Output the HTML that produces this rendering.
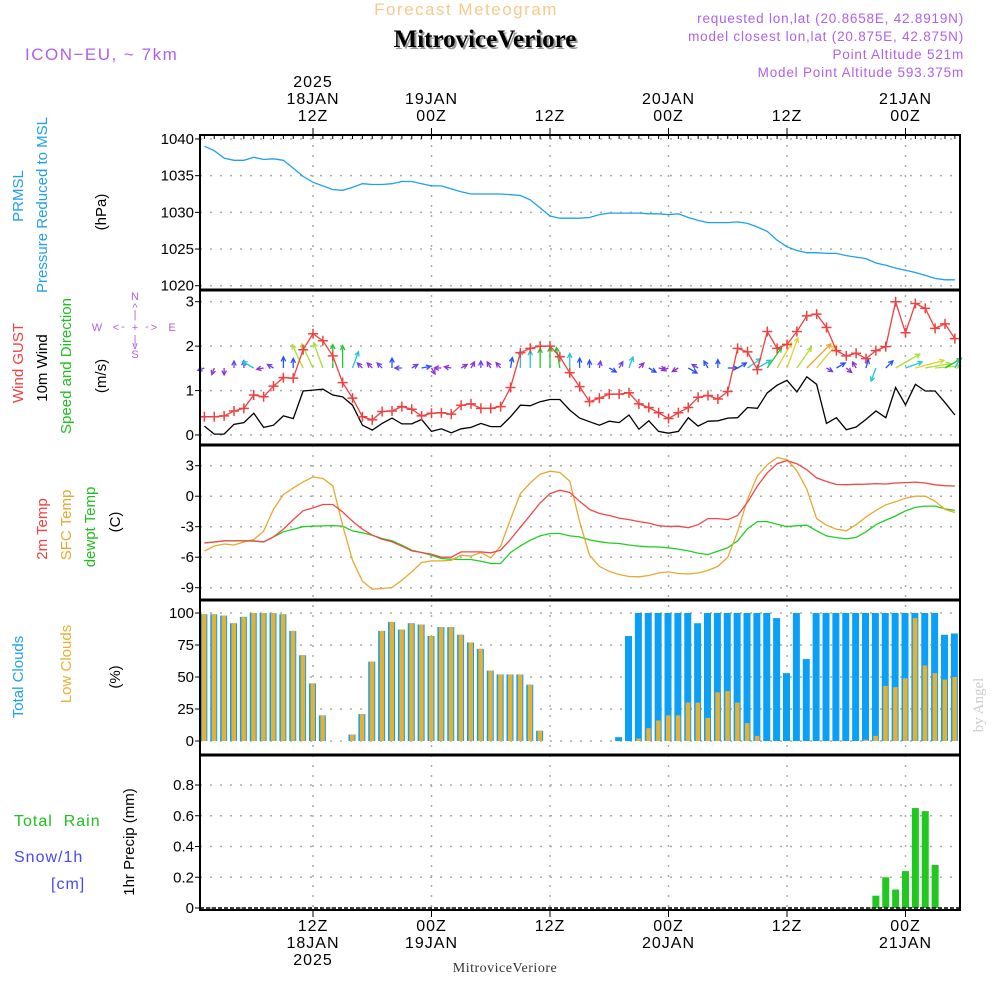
<!DOCTYPE html>
<html><head><meta charset="utf-8"><style>
html,body{margin:0;padding:0;background:#fff;}
svg{display:block;font-family:"Liberation Sans",sans-serif;}
</style></head><body>
<svg id="chart" width="1000" height="1000" viewBox="0 0 1000 1000" xmlns="http://www.w3.org/2000/svg">
<g id="static">
<text x="466" y="15" text-anchor="middle" font-size="17" fill="#f7c98a" letter-spacing="1.5">Forecast Meteogram</text>
<text x="487" y="49" text-anchor="middle" font-size="25" font-weight="bold" font-family="Liberation Serif, serif" fill="#999">MitroviceVeriore</text>
<text x="485" y="47" text-anchor="middle" font-size="25" font-weight="bold" font-family="Liberation Serif, serif" fill="#000">MitroviceVeriore</text>
<text x="964" y="23" text-anchor="end" font-size="13.5" fill="#b060e8" letter-spacing="0.8">requested lon,lat (20.8658E, 42.8919N)</text>
<text x="964" y="41" text-anchor="end" font-size="13.5" fill="#b060e8" letter-spacing="0.8">model closest lon,lat (20.875E, 42.875N)</text>
<text x="964" y="59" text-anchor="end" font-size="13.5" fill="#b060e8" letter-spacing="0.8">Point Altitude 521m</text>
<text x="964" y="77" text-anchor="end" font-size="13.5" fill="#b060e8" letter-spacing="0.8">Model Point Altitude 593.375m</text>
<text x="25" y="60" font-size="17" fill="#b060e8" letter-spacing="1.5">ICON−EU, ~ 7km</text>
<text x="505" y="972" text-anchor="middle" font-size="14" font-family="Liberation Serif, serif" fill="#333" letter-spacing="0.5">MitroviceVeriore</text>
<text transform="translate(983,705) rotate(-90)" text-anchor="middle" font-size="15" font-family="Liberation Serif, serif" fill="#ccc">by Angel</text>
</g>
</svg>
<script>
const pressure = [1039.0,1038.4,1037.4,1037.1,1037.1,1037.5,1037.2,1037.3,1037.1,1036.0,1034.9,1034.1,1033.6,1033.1,1033.0,1033.4,1033.9,1033.8,1033.8,1033.9,1034.2,1034.2,1033.9,1033.6,1033.6,1033.2,1032.8,1032.5,1032.5,1032.5,1032.5,1032.4,1032.3,1031.7,1030.6,1029.5,1029.2,1029.2,1029.2,1029.3,1029.7,1029.9,1029.9,1029.9,1029.9,1029.8,1029.8,1029.7,1029.8,1029.3,1028.9,1028.6,1028.6,1028.6,1028.7,1028.5,1028.0,1027.4,1026.2,1025.3,1024.8,1024.5,1024.5,1024.4,1024.4,1024.1,1023.9,1023.7,1023.1,1022.8,1022.4,1022.1,1021.8,1021.4,1021.0,1020.8,1020.8];
const gust = [0.41,0.41,0.43,0.54,0.6,0.9,0.86,1.1,1.29,1.28,1.92,2.28,2.12,1.78,1.18,0.83,0.41,0.34,0.53,0.54,0.64,0.58,0.43,0.49,0.5,0.47,0.67,0.7,0.6,0.6,0.64,1.07,1.85,1.95,2.0,2.0,1.76,1.4,1.09,0.75,0.83,0.92,0.92,0.95,0.7,0.62,0.5,0.37,0.5,0.62,0.85,0.89,0.81,0.98,1.95,1.87,1.47,2.33,1.95,2.04,2.33,2.68,2.72,2.42,1.9,1.78,1.84,1.72,1.9,1.99,3.0,2.3,2.96,2.85,2.4,2.5,2.17];
const windSpeed = [0.2,0.02,0.02,0.24,0.28,0.49,0.17,0.22,0.43,0.37,0.99,1.01,1.03,0.9,0.86,0.67,0.22,0.11,0.26,0.38,0.25,0.25,0.35,0.08,0.14,0.05,0.14,0.17,0.26,0.19,0.19,0.41,0.67,0.66,0.75,0.8,0.8,0.56,0.38,0.3,0.22,0.31,0.28,0.45,0.13,0.32,0.08,0.04,0.08,0.39,0.2,0.31,0.32,0.38,0.39,0.62,0.6,0.95,1.12,1.23,0.97,1.31,1.14,0.26,0.39,0.12,0.18,0.35,0.54,0.39,1.07,0.68,1.14,0.99,0.99,0.73,0.45];
const windDir = [250,200,180,0,0,300,260,300,0,0,335,335,340,0,0,20,315,315,315,0,270,60,80,150,270,280,60,30,0,330,320,10,0,0,0,0,350,0,0,0,10,120,30,20,45,120,100,250,240,120,300,330,0,90,60,55,60,35,30,20,35,45,40,120,60,130,330,15,200,45,60,70,75,80,85,60,30];
const temp2m = [-4.6,-4.5,-4.4,-4.4,-4.4,-4.4,-4.5,-4.0,-3.25,-2.3,-1.44,-1.15,-0.82,-0.82,-1.54,-2.46,-3.25,-3.84,-4.23,-4.49,-4.92,-5.38,-5.54,-5.7,-6.0,-6.0,-5.48,-5.48,-5.48,-5.57,-5.31,-4.26,-3.05,-1.87,-0.66,0.26,0.59,0.36,-0.5,-1.3,-1.7,-1.9,-2.15,-2.3,-2.5,-2.65,-2.9,-2.98,-2.95,-3.1,-2.8,-2.2,-2.2,-2.3,-1.9,-0.6,1.0,2.3,3.2,3.5,3.2,2.6,1.8,1.45,1.15,1.13,1.17,1.18,1.24,1.2,1.3,1.34,1.39,1.3,1.12,1.03,1.0];
const tempSfc = [-5.4,-4.9,-4.7,-4.8,-4.5,-4.26,-3.44,-1.28,0.16,0.82,1.41,1.9,1.74,1.02,-2.85,-6.3,-8.36,-9.15,-9.08,-8.98,-8.26,-7.44,-6.52,-6.36,-6.36,-6.3,-5.8,-5.9,-5.54,-6.07,-4.92,-2.26,0.26,1.31,2.16,2.46,2.33,1.48,-2.5,-5.8,-6.9,-7.4,-7.7,-7.9,-7.93,-7.8,-7.55,-7.45,-7.6,-7.65,-7.55,-7.3,-6.9,-6.0,-3.5,-0.3,2.0,3.1,3.8,3.6,2.5,0.7,-2.2,-2.85,-3.25,-3.4,-2.8,-2.05,-1.4,-0.85,-0.55,-0.2,0.0,0.0,-0.5,-1.3,-1.6];
const dewpt = [-4.59,-4.5,-4.39,-4.39,-4.39,-4.43,-4.49,-4.0,-3.5,-3.25,-3.0,-2.95,-2.92,-2.89,-2.95,-3.41,-3.6,-3.84,-4.16,-4.39,-4.82,-5.31,-5.54,-5.8,-6.13,-6.2,-6.23,-6.23,-6.39,-6.62,-6.62,-5.54,-4.89,-4.33,-3.9,-3.67,-3.67,-3.9,-4.0,-4.3,-4.48,-4.6,-4.65,-4.8,-4.92,-4.98,-5.0,-5.08,-5.2,-5.38,-5.6,-5.74,-5.4,-5.08,-4.4,-3.2,-2.5,-2.5,-2.75,-3.0,-2.9,-2.85,-3.4,-3.9,-4.07,-4.2,-4.05,-3.5,-2.8,-2.35,-1.95,-1.45,-1.1,-0.97,-0.97,-1.25,-1.4];
const totalClouds = [99,99,98,92,97,100,100,100,99,86,67,45,20,0,0,5,21,62,86,93,87,92,91,82,89,89,83,77,72,55,52,52,52,44,8,0,0,0,0,0,0,0,3,82,100,100,100,100,100,100,92,100,100,100,100,100,100,100,96,53,100,64,100,100,100,100,100,100,100,100,100,100,100,100,100,83,84];
const lowClouds = [99,99,98,92,97,100,100,100,99,86,67,45,20,0,0,5,21,62,86,93,87,92,91,82,89,89,83,77,72,55,52,52,52,44,8,0,0,0,0,0,0,0,0,0,2,10,16,20,20,30,30,18,38,39,30,14,4,0,0,0,0,0,0,0,0,0,0,1,4,43,42,49,96,59,53,48,50];
const precip = [0,0,0,0,0,0,0,0,0,0,0,0,0,0,0,0,0,0,0,0,0,0,0,0,0,0,0,0,0,0,0,0,0,0,0,0,0,0,0,0,0,0,0,0,0,0,0,0,0,0,0,0,0,0,0,0,0,0,0,0,0,0,0,0,0,0,0,0,0.08,0.2,0.12,0.24,0.65,0.63,0.28,0,0];
const pressureTicks = [1020,1025,1030,1035,1040];
const windTicks = [0,1,2,3];
const tempTicks = [-9,-6,-3,0,3];
const cloudTicks = [0,25,50,75,100];
const precipTicks = [0,0.2,0.4,0.6,0.8];
const timeTicks = [12,24,36,48,60,72];
const topLabels = [["2025","18JAN","12Z"],["19JAN","00Z"],["12Z"],["20JAN","00Z"],["12Z"],["21JAN","00Z"]];
const bottomLabels = [["12Z","18JAN","2025"],["00Z","19JAN"],["12Z"],["00Z","20JAN"],["12Z"],["00Z","21JAN"]];

const X0=200, X1=960;
function xs(t){ return 313 + (t-12)*9.875; }
function lin(d0,d1,r0,r1){ return v => r0 + (v-d0)/(d1-d0)*(r1-r0); }
const yP = lin(1020,1040,285.7,139);
const yW = lin(0,3,435,301.7);
const yT = lin(-9,3,587.7,465.7);
const yC = lin(0,100,741,613);
const yR = lin(0,0.8,908,785);
const panels=[[135,290],[290,445],[445,600],[600,755],[755,910]];

const svg=document.getElementById('chart');
const NS='http://www.w3.org/2000/svg';
function mk(tag,attrs,parent){ const e=document.createElementNS(NS,tag); for(const k in attrs) e.setAttribute(k,attrs[k]); (parent||svg).appendChild(e); return e; }
function txt(s,attrs,parent){ const e=mk('text',attrs,parent); e.textContent=s; return e; }
const tOf = i => i+1;

const grid=mk('g',{});


function hgrid(vals,scale,fmt,name){
  vals.forEach(v=>{
    const y=scale(v);
    const l=mk('line',{x1:X0,x2:X1,y1:y,y2:y,stroke:'#aaa','stroke-width':1.5,'stroke-dasharray':'2,8'},grid);
    
    
    mk('line',{x1:X0-5,x2:X0,y1:y,y2:y,stroke:'#000'},grid);
    const t=txt(fmt(v),{x:X0-6,y:y+5,'text-anchor':'end','font-size':15,fill:'#000'},grid);
    
    
  });
}
hgrid(pressureTicks,yP,v=>String(v),'pressure');
hgrid(windTicks,yW,v=>String(v),'wind');
hgrid(tempTicks,yT,v=>String(v),'temp');
hgrid(cloudTicks,yC,v=>String(v),'cloud');
hgrid(precipTicks,yR,v=>v===0?'0':v.toFixed(1),'precip');
timeTicks.forEach(t=>{
  const x=xs(t);
  const l=mk('line',{x1:x,x2:x,y1:135,y2:910,stroke:'#aaa','stroke-width':1.5,'stroke-dasharray':'2,8'},grid);
  
  
  mk('line',{x1:x,x2:x,y1:128,y2:135,stroke:'#000'},grid);
  mk('line',{x1:x,x2:x,y1:910,y2:917,stroke:'#000'},grid);
});
for(let t=1;t<78;t++){ const x=xs(t); mk('line',{x1:x,x2:x,y1:135,y2:139,stroke:'#000','stroke-width':1},grid); }
timeTicks.forEach((t,k)=>{
  const x=xs(t);
  const tl=topLabels[k];
  tl.forEach((s,j)=>{
    const e=txt(s,{x:x,y:121-(tl.length-1-j)*17,'text-anchor':'middle','font-size':16,fill:'#000','letter-spacing':1},grid);
    
    
  });
  bottomLabels[k].forEach((s,j)=>{
    const e=txt(s,{x:x,y:931+j*17,'text-anchor':'middle','font-size':16,fill:'#000','letter-spacing':1},grid);
    
    
  });
});

function poly(arr,scale,color,name,w){
  const pts=arr.map((v,i)=>xs(tOf(i)).toFixed(1)+','+scale(v).toFixed(1)).join(' ');
  const p=mk('polyline',{points:pts,fill:'none',stroke:color,'stroke-width':w||1.3});
  
  
  return p;
}
poly(pressure,yP,'#1ea0f0','pressure-line');
function wcol(s){ if(s<0.2)return '#9030d8'; if(s<0.3)return '#7040f0'; if(s<0.45)return '#2850ff'; if(s<0.7)return '#20c8d8'; if(s<0.97)return '#20c830'; if(s<1.1)return '#a8e030'; if(s<1.25)return '#e0d030'; return '#f0a030'; }
const arrows=mk('g',{});


windDir.forEach((d,i)=>{
  const s=windSpeed[i]; const len=Math.max(7,s*26);
  const x=xs(tOf(i)), y=368, r=d*Math.PI/180;
  const x2=x+len*Math.sin(r), y2=y-len*Math.cos(r);
  const c=wcol(s);
  const g=mk('g',{stroke:c,'stroke-width':1.3,fill:'none'},arrows);
  
  
  mk('line',{x1:x,y1:y,x2:x2,y2:y2},g);
  const a1=r+Math.PI*0.85, a2=r-Math.PI*0.85, h=5;
  mk('polyline',{points:`${x2+h*Math.sin(a1)},${y2-h*Math.cos(a1)} ${x2},${y2} ${x2+h*Math.sin(a2)},${y2-h*Math.cos(a2)}`},g);
});
poly(windSpeed,yW,'#000','wind-speed-line');
poly(gust,yW,'#f04040','wind-gust-line');
gust.forEach((v,i)=>{
  const x=xs(tOf(i)), y=yW(v);
  const m=mk('path',{d:`M${x-5},${y}H${x+5}M${x},${y-5}V${y+5}`,stroke:'#f04040','stroke-width':1.5});
  
  
});
poly(dewpt,yT,'#20d020','dewpoint-line');
poly(tempSfc,yT,'#e8a830','sfc-temp-line');
poly(temp2m,yT,'#f04848','temp-2m-line');
totalClouds.forEach((v,i)=>{
  const x=xs(tOf(i));
  const b=mk('rect',{x:x-4,y:yC(v),width:7,height:yC(0)-yC(v),fill:'#0aa0f8'});
  
  
  const lv=lowClouds[i];
  const o=mk('rect',{x:x-2.5,y:yC(lv),width:4.5,height:yC(0)-yC(lv),fill:'#e8b030'});
  
  
});
precip.forEach((v,i)=>{
  if(v<=0) return;
  const x=xs(tOf(i));
  const b=mk('rect',{x:x-3.5,y:yR(v),width:7,height:yR(0)-yR(v),fill:'#20c820'});
  
  
});
const sl=mk('line',{x1:X0,x2:X1,y1:908,y2:908,stroke:'#000','stroke-width':1.5,'stroke-dasharray':'4,2'});



panels.forEach((p,k)=>{
  const r=mk('rect',{x:X0,y:p[0],width:X1-X0,height:p[1]-p[0],fill:'none',stroke:'#000','stroke-width':2});
  
  
});
[290,445,600,755].forEach(y=>mk('line',{x1:X0,x2:X1,y1:y,y2:y,stroke:'#000','stroke-width':3}));

function vlab(s,x,y,color,name,size){
  const e=txt(s,{transform:`translate(${x},${y}) rotate(-90)`,'text-anchor':'middle','font-size':size||15,fill:color});
  
  
  return e;
}
vlab('PRMSL',23,196,'#1ea0f0','pressure-label-short');
vlab('Pressure Reduced to MSL',47,205,'#1ea0f0','pressure-label');
vlab('(hPa)',106,212,'#000','pressure-unit');
vlab('Wind GUST',23,363,'#f04040','gust-label');
vlab('10m Wind',47,368,'#000','wind-label');
vlab('Speed and Direction',71,366,'#20c020','wind-dir-label');
vlab('(m/s)',106,376,'#000','wind-unit');
vlab('2m Temp',47,529,'#f04040','temp-2m-label');
vlab('SFC Temp',71,525,'#e8a830','sfc-temp-label');
vlab('dewpt Temp',95,527,'#20c020','dewpt-label');
vlab('(C)',120,522,'#000','temp-unit');
vlab('Total Clouds',23,677,'#1ea0f0','total-cloud-label');
vlab('Low Clouds',71,664,'#e8b030','low-cloud-label');
vlab('(%)',120,677,'#000','cloud-unit');
vlab('1hr Precip (mm)',134,842,'#000','precip-unit');
[['Total  Rain',14,826,'#20c020','rain-label'],['Snow/1h',14,862,'#4848f0','snow-label'],['[cm]',51,889,'#4848f0','snow-unit']].forEach(a=>{
  const e=txt(a[0],{x:a[1],y:a[2],'font-size':16,fill:a[3],'letter-spacing':1});
  e.style.whiteSpace='pre';
  
  
});
const cg=mk('g',{fill:'#b060e8','font-size':11,'text-anchor':'middle'});


[['N',135,300],['^',135,311],['|',135,318],['W',97,331],['<',116,331],['-',123,330],['+',135,331],['-',147,330],['>',154,331],['E',172,331],['|',135,343],['v',135,349],['S',135,358]].forEach(a=>txt(a[0],{x:a[1],y:a[2]},cg));
</script>
</body></html>
